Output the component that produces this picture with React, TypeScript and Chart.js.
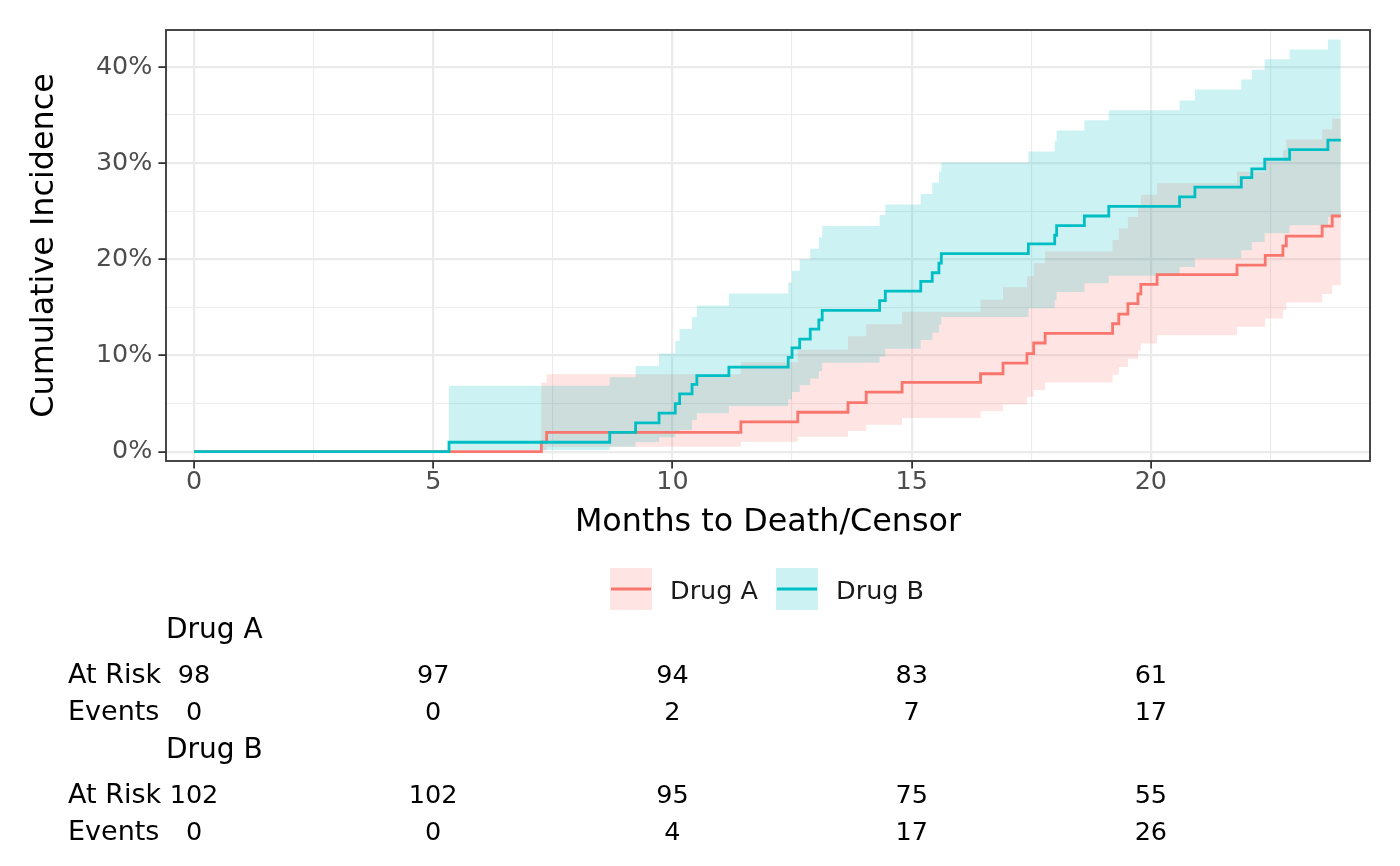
import React, { useEffect, useRef } from 'react';
import { Chart, registerables } from 'chart.js';

Chart.register(...registerables);

// ---------------- data ----------------
const timesA = [0, 7.26, 7.37, 11.43, 12.62, 13.67, 14.05, 14.8, 16.44, 16.91, 17.41, 17.55, 17.79, 19.2, 19.33, 19.52, 19.73, 19.79, 20.13, 21.8, 22.39, 22.76, 22.83, 23.58, 23.79, 23.97];
const estA = [0, 1.0, 2.0, 3.1, 4.1, 5.1, 6.2, 7.2, 8.1, 9.2, 10.2, 11.3, 12.3, 13.3, 14.3, 15.4, 16.4, 17.4, 18.4, 19.4, 20.4, 21.4, 22.4, 23.45, 24.5, 24.5];
const upA = [0, 7.2, 8.05, 9.3, 10.6, 12.0, 13.25, 14.55, 15.8, 17.1, 18.25, 19.6, 20.8, 22.0, 23.2, 24.4, 25.45, 26.7, 27.9, 29.1, 30.2, 31.35, 32.45, 33.5, 34.6, 34.6];
const lowA = [0, 0.1, 0.52, 1.04, 1.56, 2.15, 2.8, 3.5, 4.2, 4.9, 5.7, 6.4, 7.2, 8.0, 8.8, 9.65, 10.5, 11.25, 12.1, 13.0, 13.85, 14.7, 15.5, 16.4, 17.3, 17.3];

const timesB = [0, 5.33, 8.69, 9.23, 9.72, 10.06, 10.15, 10.41, 10.51, 11.18, 12.42, 12.5, 12.66, 12.88, 13.06, 13.13, 14.33, 14.45, 15.19, 15.43, 15.57, 15.62, 17.44, 17.99, 18.03, 18.61, 19.12, 20.6, 20.92, 21.89, 22.11, 22.38, 22.9, 23.7, 23.97];
const estB = [0, 0.98, 2.0, 3.0, 4.0, 5.0, 6.0, 7.0, 7.9, 8.8, 9.8, 10.8, 11.7, 12.75, 13.7, 14.7, 15.7, 16.7, 17.7, 18.6, 19.6, 20.6, 21.6, 22.5, 23.5, 24.5, 25.5, 26.5, 27.5, 28.5, 29.4, 30.4, 31.4, 32.4, 32.4];
const upB = [0, 6.86, 7.73, 8.9, 10.2, 11.5, 12.75, 14.0, 15.2, 16.45, 17.6, 18.8, 20.0, 21.1, 22.3, 23.45, 24.6, 25.7, 26.8, 27.95, 29.1, 30.07, 31.2, 32.3, 33.4, 34.45, 35.5, 36.5, 37.65, 38.7, 39.7, 40.8, 41.8, 42.85, 42.85];
const lowB = [0, 0.18, 0.5, 1.0, 1.5, 1.9, 2.25, 3.3, 4.0, 4.75, 5.45, 6.2, 6.9, 7.6, 8.4, 9.25, 9.9, 10.7, 11.6, 12.4, 13.2, 14.0, 14.9, 15.8, 16.6, 17.5, 18.3, 19.2, 20.1, 20.95, 21.8, 22.7, 23.55, 24.4, 24.4];

const groupNames = ['Drug A', 'Drug B'];
const riskTimes = [0, 5, 10, 15, 20];
const atRiskA = [98, 97, 94, 83, 61];
const eventsA = [0, 0, 2, 7, 17];
const atRiskB = [102, 102, 95, 75, 55];
const eventsB = [0, 0, 4, 17, 26];

const xTickValues = [0, 2.5, 5, 7.5, 10, 12.5, 15, 17.5, 20, 22.5];
const yTickValues = [0, 5, 10, 15, 20, 25, 30, 35, 40];

const xTitle = 'Months to Death/Censor';
const yTitle = 'Cumulative Incidence';
const rowLabels = ['At Risk', 'Events'];

// ---------------- styles ----------------
const FONT = '"DejaVu Sans", sans-serif';
const RED = '#F8766D';
const CYAN = '#00BFC4';
const RED_FILL = 'rgba(248,118,109,0.2)';
const CYAN_FILL = 'rgba(0,191,196,0.2)';
const TRANSPARENT = 'rgba(0,0,0,0)';

const X_MIN = -0.585;
const X_MAX = 24.58;
const Y_MIN = -0.97;
const Y_MAX = 43.84;

const pts = (xs: number[], ys: number[]) => xs.map((x, i) => ({ x, y: ys[i] }));

const decorPlugin = {
  id: 'decor',
  afterDraw(chart: any) {
    const { ctx, chartArea: a } = chart;
    const xs = chart.scales.x;
    ctx.save();
    // panel border
    ctx.strokeStyle = '#333333';
    ctx.lineWidth = 1.8;
    ctx.strokeRect(a.left, a.top, a.right - a.left, a.bottom - a.top);

    // axis titles
    ctx.fillStyle = '#000000';
    ctx.font = `31.8px ${FONT}`;
    ctx.textAlign = 'center';
    ctx.textBaseline = 'alphabetic';
    ctx.fillText(xTitle, (a.left + a.right) / 2, 531);
    ctx.save();
    ctx.translate(53, (a.top + a.bottom) / 2);
    ctx.rotate(-Math.PI / 2);
    ctx.fillText(yTitle, 0, 0);
    ctx.restore();

    // legend
    const items = [
      { label: groupNames[0], line: RED, fill: RED_FILL },
      { label: groupNames[1], line: CYAN, fill: CYAN_FILL },
    ];
    ctx.font = `25.5px ${FONT}`;
    ctx.textAlign = 'left';
    let kx = 610;
    const ky = 568;
    const ks = 42;
    items.forEach((it) => {
      ctx.fillStyle = '#ffffff';
      ctx.fillRect(kx, ky, ks, ks);
      ctx.fillStyle = it.fill;
      ctx.fillRect(kx, ky, ks, ks);
      ctx.strokeStyle = it.line;
      ctx.lineWidth = 2.8;
      ctx.beginPath();
      ctx.moveTo(kx + 1, ky + ks / 2);
      ctx.lineTo(kx + ks - 1, ky + ks / 2);
      ctx.stroke();
      ctx.fillStyle = '#1a1a1a';
      const tx = kx + ks + 18;
      ctx.fillText(it.label, tx, 599);
      kx = tx + ctx.measureText(it.label).width + 18;
    });

    // risk table
    const groups = [
      { name: groupNames[0], risk: atRiskA, ev: eventsA, y: 638 },
      { name: groupNames[1], risk: atRiskB, ev: eventsB, y: 758 },
    ];
    ctx.fillStyle = '#000000';
    groups.forEach((g) => {
      ctx.font = `28px ${FONT}`;
      ctx.textAlign = 'left';
      ctx.fillText(g.name, a.left, g.y);
      const rows = [g.risk, g.ev];
      rows.forEach((vals, r) => {
        const yb = g.y + 45 + r * 37;
        ctx.font = `27px ${FONT}`;
        ctx.textAlign = 'left';
        ctx.fillText(rowLabels[r], 68, yb);
        ctx.font = `25.5px ${FONT}`;
        ctx.textAlign = 'center';
        vals.forEach((v, i) => {
          ctx.fillText(String(v), xs.getPixelForValue(riskTimes[i]), yb);
        });
      });
    });
    ctx.restore();
  },
};

export default function App() {
  const ref = useRef<HTMLCanvasElement | null>(null);

  useEffect(() => {
    document.body.style.margin = '0';
    const canvas = ref.current;
    if (!canvas) return;
    const isMajorX = (v: number) => Math.abs(v % 5) < 1e-9;
    const isMajorY = (v: number) => Math.abs(v % 10) < 1e-9;

    const chart = new Chart(canvas, {
      type: 'line',
      data: {
        datasets: [
          {
            label: 'Drug B',
            data: pts(timesB, estB),
            borderColor: CYAN,
            borderWidth: 2.8,
            stepped: 'before',
            pointRadius: 0,
            fill: false,
            order: 0,
          },
          {
            label: 'Drug A',
            data: pts(timesA, estA),
            borderColor: RED,
            borderWidth: 2.8,
            stepped: 'before',
            pointRadius: 0,
            fill: false,
            order: 1,
          },
          {
            label: 'B upper',
            data: pts(timesB, upB),
            borderColor: TRANSPARENT,
            backgroundColor: CYAN_FILL,
            borderWidth: 1,
            stepped: 'before',
            pointRadius: 0,
            fill: { target: 3 },
            order: 2,
          },
          {
            label: 'B lower',
            data: pts(timesB, lowB),
            borderColor: TRANSPARENT,
            borderWidth: 1,
            stepped: 'before',
            pointRadius: 0,
            fill: false,
            order: 3,
          },
          {
            label: 'A upper',
            data: pts(timesA, upA),
            borderColor: TRANSPARENT,
            backgroundColor: RED_FILL,
            borderWidth: 1,
            stepped: 'before',
            pointRadius: 0,
            fill: { target: 5 },
            order: 4,
          },
          {
            label: 'A lower',
            data: pts(timesA, lowA),
            borderColor: TRANSPARENT,
            borderWidth: 1,
            stepped: 'before',
            pointRadius: 0,
            fill: false,
            order: 5,
          },
        ],
      },
      options: {
        animation: false,
        responsive: false,
        devicePixelRatio: 1,
        events: [],
        layout: { padding: { left: 0, top: 30, right: 30, bottom: 355 } },
        plugins: {
          legend: { display: false },
          tooltip: { enabled: false },
          filler: { drawTime: 'beforeDatasetsDraw' },
        },
        scales: {
          x: {
            type: 'linear',
            min: X_MIN,
            max: X_MAX,
            afterBuildTicks: (s: any) => {
              s.ticks = xTickValues.map((v) => ({ value: v }));
            },
            afterFit: (s: any) => {
              s.height = 50;
            },
            border: { display: false },
            grid: {
              color: '#EBEBEB',
              lineWidth: (c: any) => (c.tick && isMajorX(c.tick.value) ? 2.2 : 1.1),
              tickLength: 7.6,
              tickWidth: 1.8,
              tickColor: (c: any) => (c.tick && isMajorX(c.tick.value) ? '#333333' : TRANSPARENT),
            },
            ticks: {
              autoSkip: false,
              maxRotation: 0,
              padding: 1,
              color: '#4D4D4D',
              font: { family: FONT, size: 25.4, lineHeight: 1 },
              callback: (v: any) => (isMajorX(Number(v)) ? String(v) : ''),
            },
          },
          y: {
            type: 'linear',
            min: Y_MIN,
            max: Y_MAX,
            afterBuildTicks: (s: any) => {
              s.ticks = yTickValues.map((v) => ({ value: v }));
            },
            afterFit: (s: any) => {
              s.width = 166;
            },
            border: { display: false },
            grid: {
              color: '#EBEBEB',
              lineWidth: (c: any) => (c.tick && isMajorY(c.tick.value) ? 2.2 : 1.1),
              tickLength: 7.6,
              tickWidth: 1.8,
              tickColor: (c: any) => (c.tick && isMajorY(c.tick.value) ? '#333333' : TRANSPARENT),
            },
            ticks: {
              autoSkip: false,
              padding: 6,
              color: '#4D4D4D',
              font: { family: FONT, size: 25.4, lineHeight: 1 },
              callback: (v: any) => (isMajorY(Number(v)) ? `${v}%` : ''),
            },
          },
        },
      } as any,
      plugins: [decorPlugin],
    });
    return () => chart.destroy();
  }, []);

  return (
    <div style={{ position: 'absolute', left: 0, top: 0, width: 1400, height: 866, background: '#ffffff' }}>
      <canvas ref={ref} width={1400} height={866} style={{ width: 1400, height: 866, display: 'block' }} />
    </div>
  );
}
